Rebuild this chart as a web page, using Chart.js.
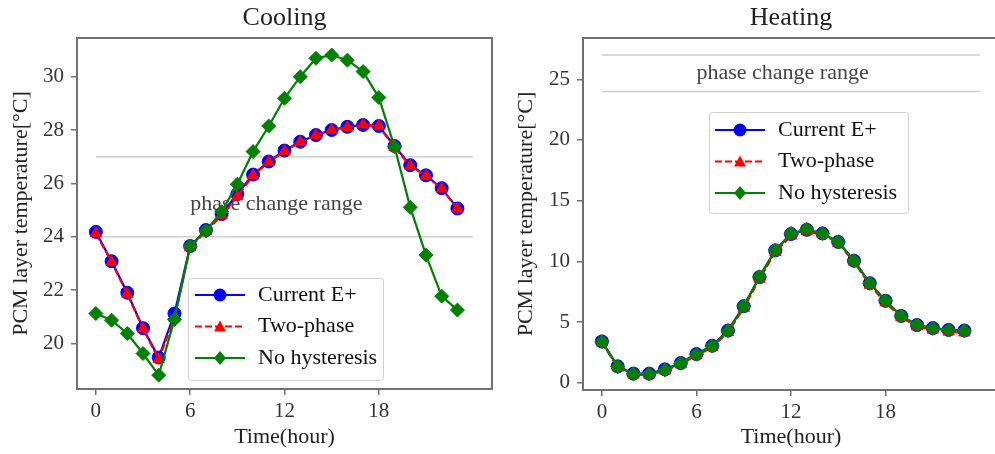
<!DOCTYPE html>
<html><head><meta charset="utf-8">
<script src="https://cdn.jsdelivr.net/npm/chart.js@4.4.1/dist/chart.umd.min.js"></script>
<style>
html,body{margin:0;padding:0;background:#fff;overflow:hidden;width:995px;height:454px;position:relative;}
canvas{position:absolute;top:0;}
#c1{left:0;}
#c2{left:505px;}
</style></head><body>
<canvas id="c1" width="500" height="454"></canvas>
<canvas id="c2" width="502" height="454"></canvas>
<script>
// ---- data ----
const hours = [0,1,2,3,4,5,6,7,8,9,10,11,12,13,14,15,16,17,18,19,20,21,22,23];
const xTicks = [0,6,12,18];
const coolingYTicks = [20,22,24,26,28,30];
const heatingYTicks = [0,5,10,15,20,25];
const seriesNames = ['Current E+','Two-phase','No hysteresis'];
const chartTitles = ['Cooling','Heating'];
const xLabel = 'Time(hour)';
const yLabel = 'PCM layer temperature[°C]';

const coolingCurrent  = [24.18,23.08,21.90,20.57,19.47,21.12,23.65,24.25,24.85,25.60,26.33,26.82,27.23,27.56,27.81,28.00,28.12,28.19,28.15,27.40,26.68,26.30,25.82,25.06];
const coolingTwoPhase = [24.12,23.05,21.85,20.55,19.40,20.95,23.60,24.20,24.80,25.50,26.30,26.80,27.20,27.55,27.80,28.00,28.10,28.20,28.15,27.35,26.65,26.28,25.80,25.05];
const coolingNoHyst   = [21.12,20.87,20.37,19.62,18.81,20.90,23.65,24.22,24.94,25.97,27.19,28.15,29.19,30.00,30.69,30.81,30.62,30.19,29.22,27.37,25.10,23.31,21.77,21.25];

const heatingCurrent  = [3.40,1.35,0.75,0.75,1.10,1.62,2.36,3.05,4.30,6.30,8.70,10.90,12.25,12.60,12.30,11.60,10.05,8.20,6.75,5.50,4.75,4.50,4.35,4.30];
const heatingTwoPhase = [3.30,1.25,0.65,0.65,0.98,1.50,2.25,2.92,4.15,6.15,8.55,10.75,12.10,12.45,12.20,11.50,9.95,8.05,6.60,5.38,4.62,4.35,4.20,4.12];
const heatingNoHyst   = [3.38,1.32,0.72,0.72,1.05,1.60,2.34,3.02,4.28,6.32,8.73,10.93,12.30,12.64,12.30,11.61,10.05,8.19,6.75,5.49,4.75,4.48,4.34,4.28];

const phaseRange = [24, 27];
const phaseSpan = [0, 24];
const phaseLabel = 'phase change range';
const phaseLabelAt = [6, 25];

// ---- styling ----
const FONT = "'Liberation Serif', 'Times New Roman', serif";
Chart.defaults.font.family = FONT;
const COLORS = ['#0000ff', '#ff0000', '#008000'];
const DASHES = [[], [7, 3], []];
const MARKERS = ['circle', 'triangle', 'rectRot'];
const AXIS = '#707070';

function makeHandle(i) {
  const c = document.createElement('canvas');
  c.width = 50; c.height = 16;
  const g = c.getContext('2d');
  g.strokeStyle = COLORS[i]; g.lineWidth = 2.2; g.setLineDash(DASHES[i]);
  g.beginPath(); g.moveTo(0, 8); g.lineTo(50, 8); g.stroke();
  g.setLineDash([]);
  g.fillStyle = COLORS[i];
  g.beginPath();
  if (i === 0) { g.arc(25, 8, 6.5, 0, Math.PI * 2); }
  else if (i === 1) { g.moveTo(25, 2); g.lineTo(31, 13); g.lineTo(19, 13); g.closePath(); }
  else { g.moveTo(25, 1); g.lineTo(31, 8); g.lineTo(25, 15); g.lineTo(19, 8); g.closePath(); }
  g.fill();
  return c;
}
const handles = [0, 1, 2].map(makeHandle);

const customPlugin = {
  id: 'custom',
  afterLayout(chart) {
    const ca = chart.chartArea;
    const cfg = chart.options.plugins.custom;
    if (chart.titleBlock) {
      chart.titleBlock.left = ca.left;
      chart.titleBlock.right = ca.right;
      chart.titleBlock.width = ca.right - ca.left;
    }
    const lg = chart.legend;
    if (lg) {
      lg.left = cfg.legendLeft; lg.top = cfg.legendTop;
      lg.right = cfg.legendLeft + 260; lg.bottom = cfg.legendTop + 200;
      lg.width = 260; lg.height = 200;
    }
  },
  beforeDraw(chart) {
    const cfg = chart.options.plugins.custom;
    const ctx = chart.ctx;
    const f = cfg.frame;
    ctx.save();
    ctx.fillStyle = 'rgba(255,255,255,0.8)';
    ctx.strokeStyle = '#d0d0d0';
    ctx.lineWidth = 1;
    ctx.beginPath();
    ctx.roundRect(f[0] + 0.5, f[1] + 0.5, f[2] - f[0], f[3] - f[1], 3);
    ctx.fill(); ctx.stroke();
    ctx.restore();
  },
  beforeDatasetsDraw(chart) {
    const ctx = chart.ctx;
    const xs = chart.scales.x, ys = chart.scales.y;
    ctx.save();
    ctx.font = '22px ' + FONT;
    ctx.fillStyle = '#444';
    ctx.textAlign = 'left';
    ctx.textBaseline = 'alphabetic';
    ctx.fillText(phaseLabel, xs.getPixelForValue(phaseLabelAt[0]), ys.getPixelForValue(phaseLabelAt[1]));
    ctx.restore();
  },
  afterDatasetsDraw(chart) {
    const ctx = chart.ctx, ca = chart.chartArea;
    ctx.save();
    ctx.strokeStyle = AXIS; ctx.lineWidth = 2;
    ctx.strokeRect(ca.left, ca.top, ca.right - ca.left, ca.bottom - ca.top);
    ctx.restore();
  }
};

function makeChart(id, title, series, yMin, yMax, yTicks, layout) {
  const datasets = series.map((vals, i) => ({
    label: seriesNames[i],
    data: hours.map((h, k) => ({ x: h, y: vals[k] })),
    borderColor: COLORS[i],
    backgroundColor: COLORS[i],
    borderWidth: 2.2,
    borderDash: DASHES[i],
    pointStyle: MARKERS[i],
    pointRadius: i === 2 ? 7 : 6.5,
    pointBorderWidth: 1,
    pointBackgroundColor: COLORS[i],
    pointBorderColor: COLORS[i],
    tension: 0,
    order: 2 - i
  }));
  phaseRange.forEach(v => datasets.push({
    label: '',
    data: phaseSpan.map(x => ({ x: x, y: v })),
    borderColor: '#cfcfcf',
    borderWidth: 1.5,
    pointRadius: 0,
    order: 10
  }));
  return new Chart(document.getElementById(id), {
    type: 'line',
    data: { datasets },
    options: {
      responsive: false,
      animation: false,
      events: [],
      layout: { padding: { top: 0, left: 0, right: layout.padRight, bottom: 0 } },
      scales: {
        x: {
          type: 'linear', min: -1.2, max: 25.2,
          afterBuildTicks: s => { s.ticks = xTicks.map(v => ({ value: v })); },
          afterFit: s => { s.height = layout.xHeight; },
          ticks: { font: { size: 21 }, color: '#333', padding: 4, maxRotation: 0, autoSkip: false },
          grid: { drawOnChartArea: false, drawTicks: true, tickLength: 6, color: AXIS, lineWidth: 1.5 },
          border: { display: false },
          title: { display: true, text: xLabel, font: { size: 22 }, color: '#222', padding: { top: 0, bottom: 4 } }
        },
        y: {
          type: 'linear', min: yMin, max: yMax,
          afterBuildTicks: s => { s.ticks = yTicks.map(v => ({ value: v })); },
          afterFit: s => { s.width = layout.yWidth; },
          ticks: { font: { size: 21 }, color: '#333', padding: 7 },
          grid: { drawOnChartArea: false, drawTicks: true, tickLength: 6, color: AXIS, lineWidth: 1.5 },
          border: { display: false },
          title: { display: true, text: yLabel, font: { size: 22 }, color: '#222', padding: { top: 8, bottom: 0 } }
        }
      },
      plugins: {
        tooltip: { enabled: false },
        title: { display: true, text: title, font: { size: 26, weight: 'normal' }, color: '#222', padding: { top: 3, bottom: 3.8 } },
        legend: {
          position: 'chartArea',
          align: 'start',
          labels: {
            usePointStyle: true,
            pointStyleWidth: 54,
            padding: 9.5,
            font: { size: 22 },
            color: '#111',
            generateLabels: () => seriesNames.map((n, i) => ({
              text: n, pointStyle: handles[i], lineWidth: 1, fillStyle: 'rgba(0,0,0,0)',
              strokeStyle: 'rgba(0,0,0,0)', hidden: false, datasetIndex: i, fontColor: '#111'
            }))
          }
        },
        custom: { legendLeft: layout.legendLeft, legendTop: layout.legendTop, frame: layout.frame }
      }
    },
    plugins: [customPlugin]
  });
}

makeChart('c1', chartTitles[0], [coolingCurrent, coolingTwoPhase, coolingNoHyst], 18.29, 31.45, coolingYTicks,
  { padRight: 2, xHeight: 65, yWidth: 77, legendLeft: 183.5, legendTop: 274.5, frame: [188, 278, 383, 380] });
makeChart('c2', chartTitles[1], [heatingCurrent, heatingTwoPhase, heatingNoHyst], -0.6, 28.4, heatingYTicks,
  { padRight: 2, xHeight: 64, yWidth: 78, legendLeft: 198.5, legendTop: 109.5, frame: [204, 112, 403, 213] });
</script>
</body></html>
